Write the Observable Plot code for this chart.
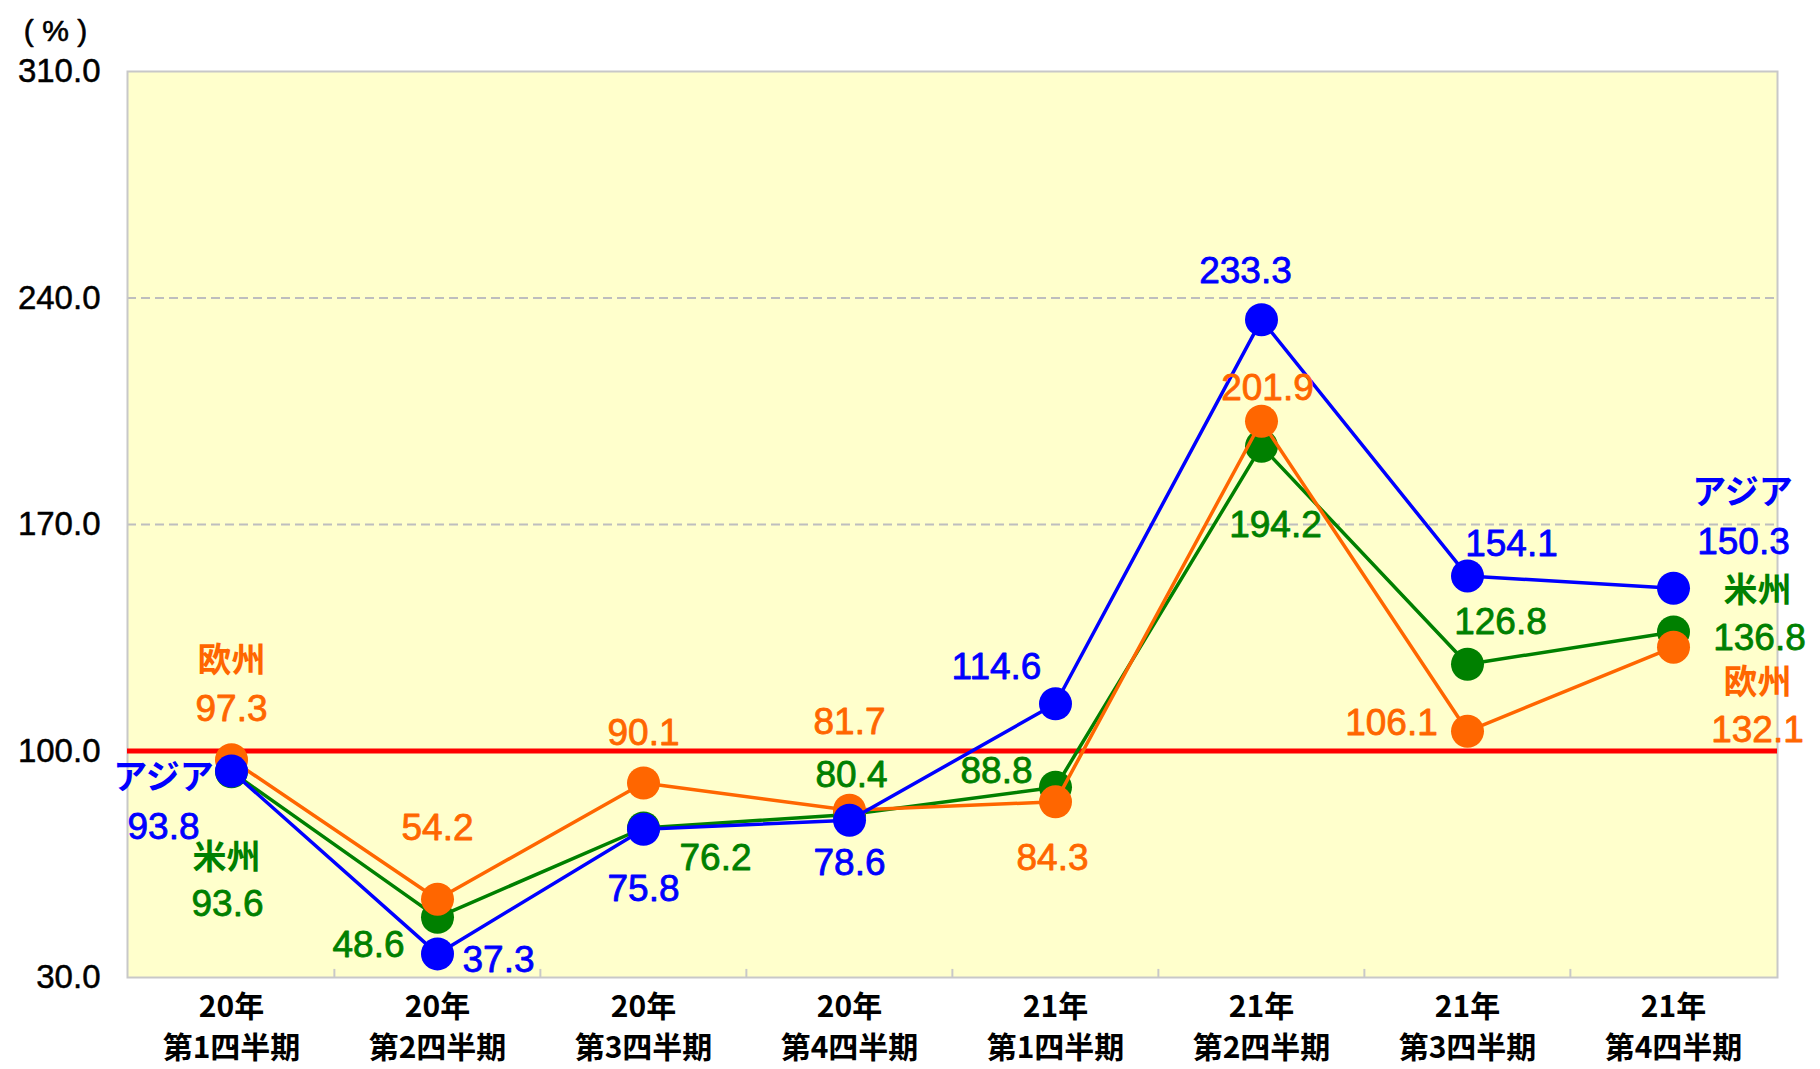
<!DOCTYPE html>
<html>
<head>
<meta charset="utf-8">
<script src="https://cdn.jsdelivr.net/npm/d3@7"></script>
<script src="https://cdn.jsdelivr.net/npm/@observablehq/plot@0.6"></script>
<style>
  html, body { margin: 0; padding: 0; background: #ffffff; }
  #chart svg { display: block; }
</style>
</head>
<body>
<div id="chart"></div>
<script>
// ---- data ----
const categories = ["20Q1", "20Q2", "20Q3", "20Q4", "21Q1", "21Q2", "21Q3", "21Q4"];
const yearLabels = ["20年", "20年", "20年", "20年", "21年", "21年", "21年", "21年"];
const quarterLabels = ["第1四半期", "第2四半期", "第3四半期", "第4四半期", "第1四半期", "第2四半期", "第3四半期", "第4四半期"];
const asiaValues = [93.8, 37.3, 75.8, 78.6, 114.6, 233.3, 154.1, 150.3];
const americasValues = [93.6, 48.6, 76.2, 80.4, 88.8, 194.2, 126.8, 136.8];
const europeValues = [97.3, 54.2, 90.1, 81.7, 84.3, 201.9, 106.1, 132.1];
const seriesNames = { americas: "米州", europe: "欧州", asia: "アジア" };
const yTickValues = [30, 100, 170, 240, 310];
const gridValues = [170, 240];
const baselineValue = 100;
const unitLabel = "( % )";

// ---- styling / layout ----
const W = 1820, H = 1069;
const M = { top: 71, right: 43, bottom: 92, left: 127 };
const colors = { asia: "#0000FF", americas: "#008000", europe: "#FF6600" };
const numFont = "'Liberation Sans', Arial, 'Noto Sans CJK JP', sans-serif";
const jpFont = "'Noto Sans CJK JP', sans-serif";

// label offsets in pixels relative to each point [dx, dy]
const valueLabelOffsets = {
  asia:     [[-68, 56], [61, 6], [0, 60], [0, 43], [-59, -37], [-16, -49], [44, -32], [70, -46]],
  americas: [[-4, 132], [-69, 28], [72, 30], [2, -39], [-59, -16], [14, 79], [33, -42], [86, 6]],
  europe:   [[0, -51], [0, -71], [0, -50], [0, -88], [-3, 56], [6, -33], [-76, -8], [84, 83]]
};
const nameLabelOffsets = {
  asia:     [[0, -68, 7], [7, 69, -95]],
  americas: [[0, -5, 86], [7, 84, -41]],
  europe:   [[0, 0, -99], [7, 84, 36]]
};

const series = [
  { key: "americas", values: americasValues },
  { key: "europe", values: europeValues },
  { key: "asia", values: asiaValues }
];

const step = (W - M.left - M.right) / categories.length;

const marks = [];
// background
marks.push(Plot.frame({ fill: "#FFFFCC" }));
// dashed grid
marks.push(Plot.ruleY(gridValues, { stroke: "#BEBEBE", strokeWidth: 2, strokeDasharray: "9,5" }));
// frame
marks.push(Plot.frame({ stroke: "#C8C8C8", strokeWidth: 2 }));
// category boundary ticks
marks.push(Plot.ruleX(categories.slice(1), { x: d => d, dx: -step / 2, y1: 30, y2: 32.5, stroke: "#C8C8C8", strokeWidth: 2 }));
// baseline
marks.push(Plot.ruleY([baselineValue], { stroke: "#FF0000", strokeWidth: 5 }));

// series lines + dots
for (const s of series) {
  const data = categories.map((c, i) => ({ cat: c, value: s.values[i] }));
  marks.push(Plot.line(data, { x: "cat", y: "value", stroke: colors[s.key], strokeWidth: 3.5 }));
  marks.push(Plot.dot(data, { x: "cat", y: "value", r: 16.5, fill: colors[s.key], stroke: "none" }));
}

// value labels
for (const s of series) {
  s.values.forEach((v, i) => {
    const [dx, dy] = valueLabelOffsets[s.key][i];
    marks.push(Plot.text([{ cat: categories[i], value: v }], {
      x: "cat", y: "value", text: d => d.value.toFixed(1), dx, dy,
      fill: colors[s.key], stroke: colors[s.key], strokeWidth: 0.8,
      fontSize: 37, fontFamily: numFont, textAnchor: "middle"
    }));
  });
  for (const [i, dx, dy] of nameLabelOffsets[s.key]) {
    marks.push(Plot.text([{ cat: categories[i], value: s.values[i] }], {
      x: "cat", y: "value", text: () => seriesNames[s.key], dx, dy,
      fill: colors[s.key], fontSize: 34, fontWeight: "bold", fontFamily: jpFont, textAnchor: "middle"
    }));
  }
}

// y tick labels
marks.push(Plot.text(yTickValues, {
  y: d => d, text: d => d.toFixed(1), frameAnchor: "left", textAnchor: "end", dx: -27,
  fontSize: 33, fontFamily: numFont, fill: "#000", stroke: "#000", strokeWidth: 0.5
}));
// x tick labels (two lines)
const catData = categories.map((c, i) => ({ cat: c, year: yearLabels[i], quarter: quarterLabels[i] }));
marks.push(Plot.text(catData, {
  x: "cat", text: "year", frameAnchor: "bottom", dy: 39,
  fontSize: 30, fontWeight: "bold", fontFamily: jpFont, fill: "#000"
}));
marks.push(Plot.text(catData, {
  x: "cat", text: "quarter", frameAnchor: "bottom", dy: 80,
  fontSize: 30, fontWeight: "bold", fontFamily: jpFont, fill: "#000"
}));
// unit label
marks.push(Plot.text([unitLabel], {
  text: d => d, frameAnchor: "top-left", dx: -72, dy: -52, textAnchor: "middle",
  fontSize: 30, fontFamily: numFont, fill: "#000", stroke: "#000", strokeWidth: 0.6
}));

const chart = Plot.plot({
  width: W,
  height: H,
  marginTop: M.top,
  marginRight: M.right,
  marginBottom: M.bottom,
  marginLeft: M.left,
  style: { background: "#ffffff", overflow: "visible" },
  x: { type: "point", domain: categories, padding: 0.5, axis: null },
  y: { domain: [30, 310], axis: null },
  marks
});
document.getElementById("chart").appendChild(chart);
</script>
</body>
</html>
